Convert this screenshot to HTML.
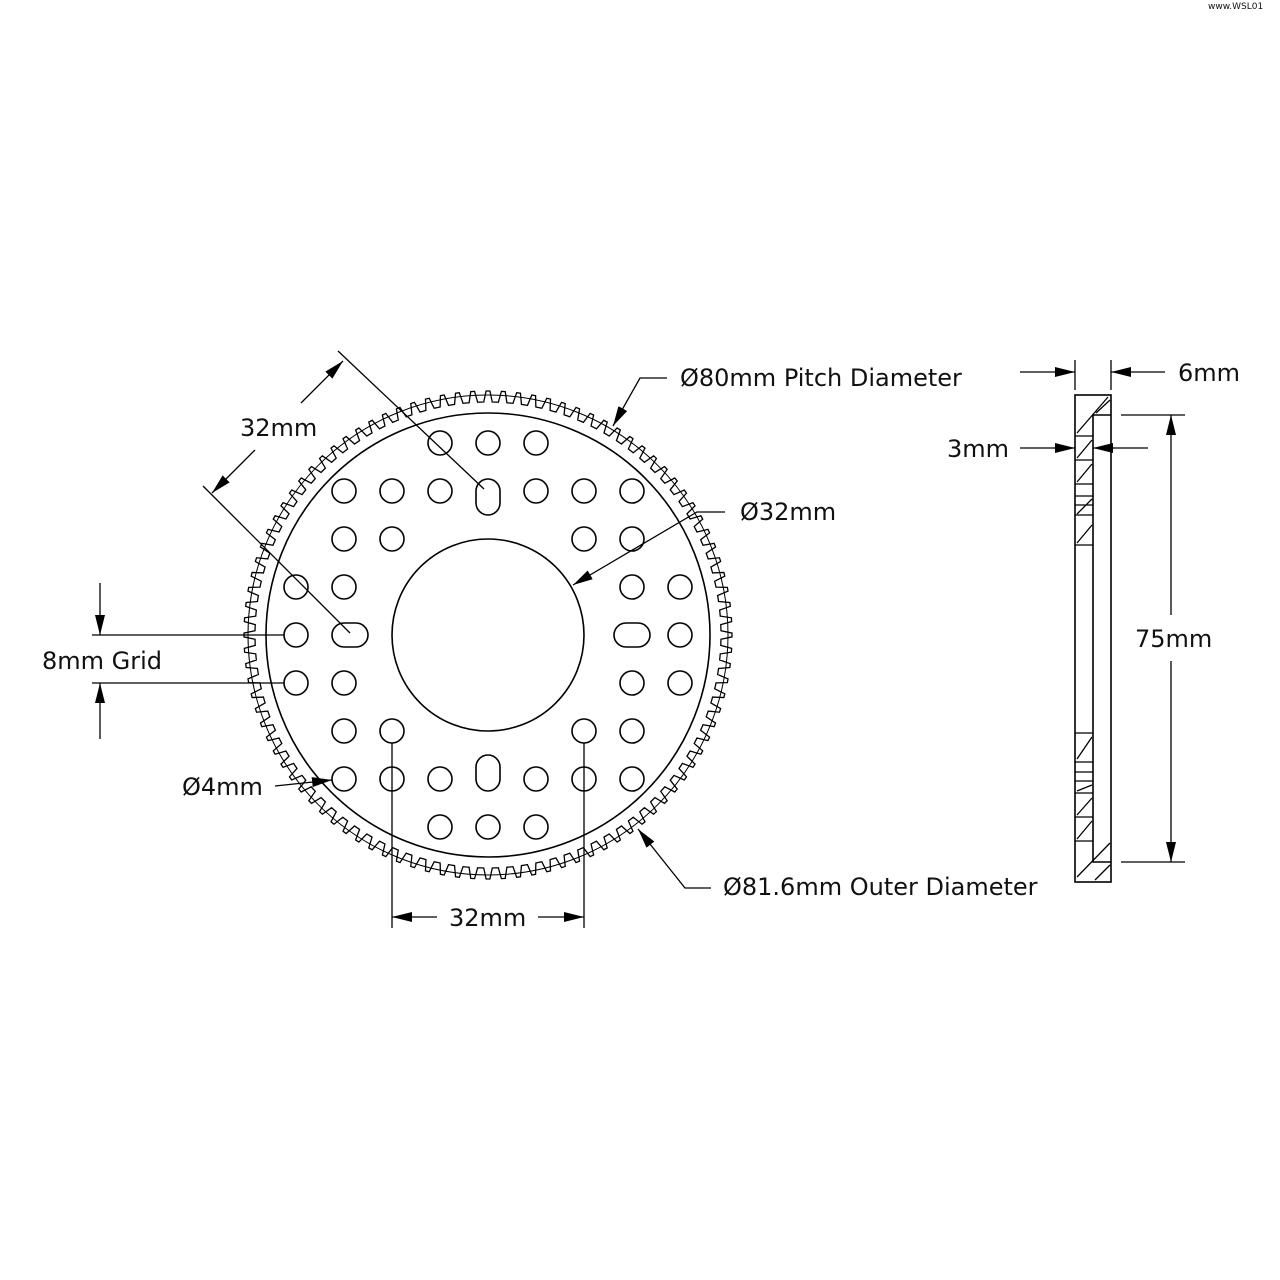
<!DOCTYPE html>
<html><head><meta charset="utf-8"><style>
html,body{margin:0;padding:0;background:#fff;}
svg{display:block;}
text{font-family:"DejaVu Sans","Liberation Sans",sans-serif;fill:#111;}
</style></head><body>
<svg id="s" width="1280" height="1280" viewBox="0 0 1280 1280" xmlns="http://www.w3.org/2000/svg">
<defs>
<marker id="a" viewBox="0 0 20 10" refX="20" refY="5" markerWidth="20" markerHeight="10" markerUnits="userSpaceOnUse" orient="auto"><path d="M0,0 L20,5 L0,10 Z" fill="#000"/></marker>
</defs>
<text x="1208" y="9" font-size="9" fill="#555">www.WSL01</text>
<g fill="none" stroke="#000" stroke-width="1.6">
<path id="teeth" stroke-width="1.3"/>
<circle cx="488" cy="635" r="240" stroke-width="1"/>
<circle cx="488" cy="635" r="222"/>
<circle cx="488" cy="635" r="96"/>
<g id="holes"></g>
<!-- slots -->
<rect x="476" y="479" width="24" height="36" rx="12"/>
<rect x="476" y="755" width="24" height="36" rx="12"/>
<rect x="332" y="623" width="36" height="24" rx="12"/>
<rect x="614" y="623" width="36" height="24" rx="12"/>
</g>
<g stroke="#000" stroke-width="1.3" fill="none">
<!-- diagonal 32mm -->
<line x1="338" y1="351" x2="484" y2="489"/>
<line x1="203" y1="486" x2="350" y2="633"/>
<line x1="301" y1="403" x2="343" y2="361" marker-end="url(#a)"/>
<line x1="255" y1="450" x2="212" y2="493" marker-end="url(#a)"/>
<!-- 8mm grid -->
<line x1="92" y1="635" x2="284" y2="635"/>
<line x1="92" y1="683" x2="284" y2="683"/>
<line x1="100" y1="583" x2="100" y2="635" marker-end="url(#a)"/>
<line x1="100" y1="739" x2="100" y2="683" marker-end="url(#a)"/>
<!-- 4mm -->
<line x1="275" y1="786" x2="332" y2="780" marker-end="url(#a)"/>
<!-- bottom 32 -->
<line x1="392" y1="743" x2="392" y2="928"/>
<line x1="584" y1="743" x2="584" y2="928"/>
<line x1="437" y1="917" x2="392" y2="917" marker-end="url(#a)"/>
<line x1="538" y1="917" x2="584" y2="917" marker-end="url(#a)"/>
<!-- leaders -->
<polyline points="667,378 640,378 613,426" marker-end="url(#a)"/>
<polyline points="725,512 697,512 573,585" marker-end="url(#a)"/>
<polyline points="711,888 685,888 638,829" marker-end="url(#a)"/>
</g>
<!-- side view -->
<g stroke="#000" stroke-width="1.6" fill="none">
<rect x="1075" y="395" width="36" height="487"/>
<polyline points="1111,415 1093,415 1093,862 1111,862"/>
<g stroke-width="1.3">
<line x1="1075" y1="436" x2="1093" y2="436"/>
<line x1="1075" y1="460" x2="1093" y2="460"/>
<line x1="1075" y1="484" x2="1093" y2="484"/>
<line x1="1075" y1="496" x2="1093" y2="496"/>
<line x1="1075" y1="505" x2="1093" y2="505"/>
<line x1="1075" y1="515" x2="1093" y2="515"/>
<line x1="1075" y1="545" x2="1093" y2="545"/>
<line x1="1075" y1="733" x2="1093" y2="733"/>
<line x1="1075" y1="762" x2="1093" y2="762"/>
<line x1="1075" y1="772" x2="1093" y2="772"/>
<line x1="1075" y1="781" x2="1093" y2="781"/>
<line x1="1075" y1="793" x2="1093" y2="793"/>
<line x1="1075" y1="817" x2="1093" y2="817"/>
<line x1="1075" y1="841" x2="1093" y2="841"/>
<!-- hatching -->
<line x1="1077" y1="433" x2="1108" y2="397"/>
<line x1="1096" y1="413" x2="1110" y2="400"/>
<line x1="1077" y1="458" x2="1092" y2="440"/>
<line x1="1077" y1="482" x2="1092" y2="464"/>
<line x1="1077" y1="514" x2="1092" y2="499"/>
<line x1="1077" y1="543" x2="1092" y2="525"/>
<line x1="1077" y1="759" x2="1092" y2="737"/>
<line x1="1077" y1="791" x2="1092" y2="785"/>
<line x1="1077" y1="815" x2="1092" y2="798"/>
<line x1="1077" y1="839" x2="1092" y2="821"/>
<line x1="1077" y1="877" x2="1110" y2="843"/>
<line x1="1095" y1="880" x2="1110" y2="865"/>
</g>
</g>
<g stroke="#000" stroke-width="1.3" fill="none">
<line x1="1075" y1="360" x2="1075" y2="390"/>
<line x1="1111" y1="360" x2="1111" y2="390"/>
<line x1="1020" y1="372" x2="1075" y2="372" marker-end="url(#a)"/>
<line x1="1165" y1="372" x2="1111" y2="372" marker-end="url(#a)"/>
<line x1="1020" y1="448" x2="1075" y2="448" marker-end="url(#a)"/>
<line x1="1148" y1="448" x2="1093" y2="448" marker-end="url(#a)"/>
<line x1="1121" y1="415" x2="1185" y2="415"/>
<line x1="1121" y1="862" x2="1185" y2="862"/>
<line x1="1171" y1="615" x2="1171" y2="415" marker-end="url(#a)"/>
<line x1="1171" y1="661" x2="1171" y2="862" marker-end="url(#a)"/>
</g>
<g font-size="24">
<text x="240" y="436">32mm</text>
<text x="42" y="669">8mm Grid</text>
<text x="182" y="795">Ø4mm</text>
<text x="449" y="926">32mm</text>
<text x="680" y="386">Ø80mm Pitch Diameter</text>
<text x="740" y="520">Ø32mm</text>
<text x="723" y="895">Ø81.6mm Outer Diameter</text>
<text x="1178" y="381">6mm</text>
<text x="947" y="457">3mm</text>
<text x="1135" y="647">75mm</text>
</g>
</svg>
<script>
(function(){
var cx=488,cy=635,rr=233,rt=244,N=100,d=[];
function p(r,a){a=a*Math.PI/180;return (cx+r*Math.cos(a)).toFixed(2)+","+(cy+r*Math.sin(a)).toFixed(2);}
for(var i=0;i<N;i++){var t=i*360/N;
d.push((i?"L":"M")+p(rr,t-1.8));d.push("L"+p(rr,t-1.05));d.push("L"+p(rt,t-0.45));d.push("L"+p(rt,t+0.45));d.push("L"+p(rr,t+1.05));}
document.getElementById("teeth").setAttribute("d",d.join(" ")+"Z");
var rows={443:[440,488,536],491:[344,392,440,536,584,632],539:[344,392,584,632],587:[296,344,632,680],635:[296,680],683:[296,344,632,680],731:[344,392,584,632],779:[344,392,440,536,584,632],827:[440,488,536]};
var g=document.getElementById("holes"),ns="http://www.w3.org/2000/svg";
for(var y in rows){rows[y].forEach(function(x){var c=document.createElementNS(ns,"circle");c.setAttribute("cx",x);c.setAttribute("cy",y);c.setAttribute("r",12);g.appendChild(c);});}
})();
</script>
</body></html>
